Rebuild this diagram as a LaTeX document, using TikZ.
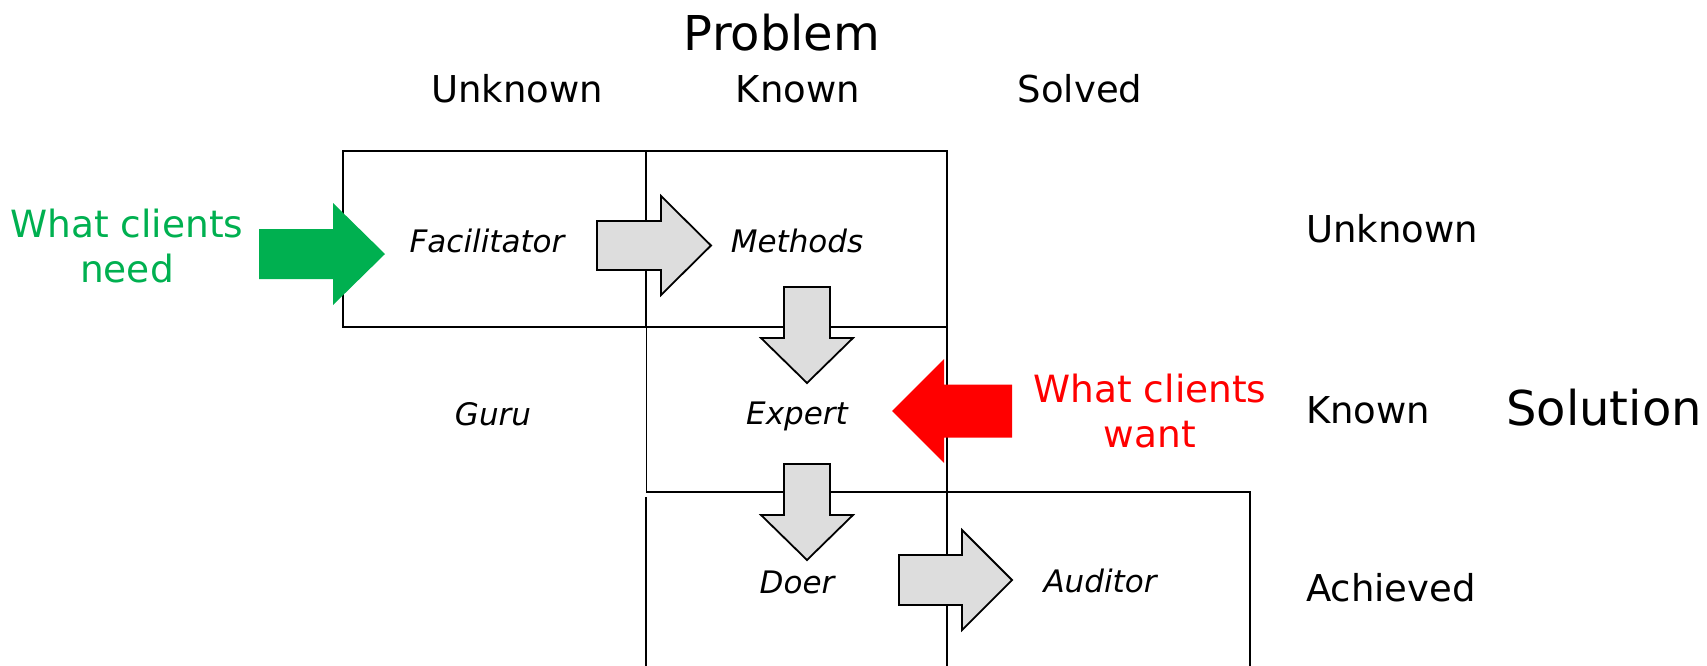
\documentclass[tikz,border=0pt]{standalone}
\usepackage{fontspec}
\setmainfont{DejaVu Sans}
\usepackage{xcolor}
\definecolor{needgreen}{HTML}{00B050}
\definecolor{wantred}{HTML}{FF0000}
\definecolor{arrowgray}{HTML}{DDDDDD}

% block arrow: style, start, angle, length, shaft length, shaft half width, head half width
\newcommand{\blockarrow}[7]{%
  \draw[#1, shift={#2}, rotate=#3] (0,-#6) -- (#5,-#6) -- (#5,-#7) -- (#4,0)
    -- (#5,#7) -- (#5,#6) -- (0,#6) -- cycle;}

\begin{document}
\begin{tikzpicture}[x=1pt,y=-1pt,
    head node/.style={anchor=base, inner sep=0pt, font=\fontsize{48}{58}\selectfont},
    axis node/.style={anchor=base, inner sep=0pt, font=\fontsize{37}{45}\selectfont},
    row node/.style={axis node, anchor=base west},
    role node/.style={anchor=base, inner sep=0pt, font=\fontsize{31}{38}\selectfont\itshape},
    client node/.style={align=center, inner sep=0pt, font=\fontsize{37.5}{45}\selectfont},
    grid line/.style={line width=2pt},
    thin line/.style={line width=1pt},
    gray arrow/.style={fill=arrowgray, draw=black, line width=1.8pt},
    green arrow/.style={fill=needgreen, draw=none},
    red arrow/.style={fill=wantred, draw=none}]

    \useasboundingbox (0,0) rectangle (1707,665);

    % axes
    \node[head node] (problem) at (782,50) {Problem};
    \node[axis node] (pUnknown) at (517,102) {Unknown};
    \node[axis node] (pKnown) at (798,102) {Known};
    \node[axis node] (pSolved) at (1080,102) {Solved};

    \node[row node] (sUnknown) at (1306,242) {Unknown};
    \node[row node] (sKnown) at (1306,423) {Known};
    \node[row node] (sAchieved) at (1306,601) {Achieved};
    \node[head node, anchor=base west] (solution) at (1506,425) {Solution};

    % grid
    \draw[grid line] (343,151) rectangle (947,327);
    \draw[grid line] (646,151) -- (646,327);
    \draw[thin line] (646,327) -- (646,492);
    \draw[grid line] (947,327) -- (947,666);
    \draw[grid line] (646,492) -- (1250,492) -- (1250,666);
    \draw[grid line] (646,497) -- (646,666);

    % arrows
    \blockarrow{gray arrow}{(597,245.5)}{0}{114}{64}{24.5}{49.5}
    \blockarrow{gray arrow}{(807,287)}{-90}{96}{51}{23}{46}
    \blockarrow{gray arrow}{(807,464)}{-90}{96}{51}{23}{46}
    \blockarrow{gray arrow}{(899,580)}{0}{113}{63}{25}{50}
    \blockarrow{green arrow}{(259,254)}{0}{126}{74}{25}{51}
    \blockarrow{red arrow}{(1012,411)}{180}{120}{68}{26.5}{52}

    % roles
    \node[role node] (facilitator) at (487,252) {Facilitator};
    \node[role node] (methods) at (797,252) {Methods};
    \node[role node] (guru) at (493,425) {Guru};
    \node[role node] (expert) at (797,424) {Expert};
    \node[role node] (doer) at (797,593) {Doer};
    \node[role node] (auditor) at (1100,592) {Auditor};

    % clients
    \node[client node, text=needgreen] (need) at (127,246) {What clients\\need};
    \node[client node, text=wantred] (want) at (1150,411) {What clients\\want};

\end{tikzpicture}
\end{document}
